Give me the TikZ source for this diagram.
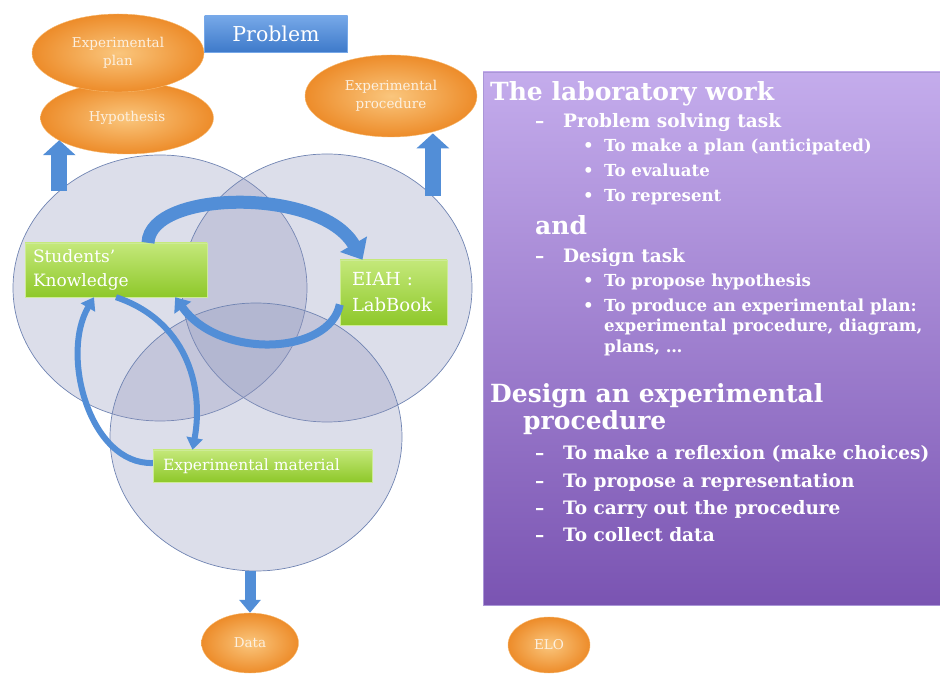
\documentclass[tikz,border=0pt]{standalone}
\usepackage{fontspec}
\setmainfont{DejaVu Serif}
\usetikzlibrary{arrows.meta,shapes.geometric}

\definecolor{orangedark}{RGB}{237,140,42}
\definecolor{orangelight}{RGB}{250,198,125}
\definecolor{orangeedge}{RGB}{247,185,110}
\definecolor{greentop}{RGB}{196,232,122}
\definecolor{greenbot}{RGB}{142,200,42}
\definecolor{greenedge}{RGB}{205,235,150}
\definecolor{arrowblue}{RGB}{82,142,215}
\definecolor{circfill}{RGB}{140,145,185}
\definecolor{circline}{RGB}{112,132,178}
\definecolor{purpletop}{RGB}{196,172,236}
\definecolor{purplebot}{RGB}{122,84,178}
\definecolor{purpleedge}{RGB}{170,150,215}
\definecolor{probtop}{RGB}{118,168,232}
\definecolor{probbot}{RGB}{62,122,202}
\definecolor{paletext}{RGB}{252,240,224}

\tikzset{
  field/.style={ellipse, draw=circline, line width=0.7pt, fill=circfill,
    fill opacity=0.3, inner sep=0pt},
  goal/.style={ellipse, inner sep=0pt, inner color=orangelight,
    outer color=orangedark, draw=orangeedge, text=paletext, align=center,
    font=\fontsize{13.5}{18}\selectfont},
  tool/.style={rectangle, inner ysep=0pt, top color=greentop,
    bottom color=greenbot, draw=greenedge, text=white, align=left},
  blockarrow/.style={draw=arrowblue, line width=16pt,
    -{Triangle[width=32pt,length=15pt]}},
  droparrow/.style={draw=arrowblue, line width=11pt,
    -{Triangle[width=21pt,length=13pt]}},
  bendthick/.style={draw=arrowblue, line width=13pt,
    -{Triangle[width=30pt,length=18pt]}},
  bendmid/.style={draw=arrowblue, line width=8pt,
    -{Triangle[width=20pt,length=13pt]}},
  bendthin/.style={draw=arrowblue, line width=6pt,
    -{Triangle[width=16pt,length=12pt]}},
  headline/.style={anchor=base west, inner sep=0pt, text=white,
    font=\fontsize{25}{27}\selectfont\bfseries},
  taskline/.style={anchor=base west, inner sep=0pt, text=white,
    font=\fontsize{18.5}{20}\selectfont\bfseries},
  subline/.style={anchor=base west, inner sep=0pt, text=white,
    font=\fontsize{16.6}{18}\selectfont\bfseries},
}

\begin{document}
\begin{tikzpicture}[x=1pt,y=1pt]
  \useasboundingbox (0,0) rectangle (940,675);

  % three overlapping fields
  \node[field, minimum width=294pt, minimum height=266pt] (lc) at (160,387) {};
  \node[field, minimum width=290pt, minimum height=268pt] (rc) at (327,387) {};
  \node[field, minimum width=292pt, minimum height=268pt] (bc) at (256,238) {};

  % outcomes
  \node[goal, minimum width=173pt, minimum height=72pt] (hyp) at (127,557) {Hypothesis};
  \node[goal, minimum width=172pt, minimum height=78pt] (plan) at (118,622) {Experimental\\plan};
  \node[goal, minimum width=172pt, minimum height=82pt] (proc) at (391,579) {Experimental\\procedure};
  \node[goal, minimum width=97pt, minimum height=60pt] (data) at (250,32) {Data};
  \node[goal, minimum width=82pt, minimum height=56pt] (elo) at (549,30) {ELO};
  \node[rectangle, top color=probtop, bottom color=probbot, draw=probtop, text=white,
    minimum width=143pt, minimum height=36pt,
    font=\fontsize{20.5}{22}\selectfont] (prob) at (276,641) {Problem};

  \draw[blockarrow] (lc.136) -- (lc.136 |- hyp.198);
  \draw[blockarrow] (rc.41) -- (rc.41 |- proc.314);
  \draw[droparrow] (bc.south -| data.north) -- (data.north);

  % the three poles
  \node[tool, text width=166pt, inner xsep=8pt, minimum height=54pt,
    font=\fontsize{17}{24}\selectfont] (sk) at (116,405) {Students'\\Knowledge};
  \node[tool, text width=83pt, inner xsep=12pt, minimum height=65pt,
    font=\fontsize{18}{26}\selectfont] (lab) at (393.5,382.5) {EIAH :\\LabBook};
  \node[tool, text width=199pt, inner xsep=10pt, minimum height=32pt,
    font=\fontsize{15.5}{18}\selectfont] (em) at (262.5,209) {Experimental material};

  \draw[bendthick] ([xshift=32pt]sk.north) .. controls +(2,53) and +(-42,73) .. ([xshift=-31pt]lab.north);
  \draw[bendmid] ([yshift=-12pt]lab.west) .. controls +(-10,-50) and +(45,-63) .. ([xshift=-32pt]sk.south east);
  \draw[bendthin] (sk.south) .. controls +(69,-23) and +(12,65) .. ([xshift=-70pt]em.north);
  \draw[bendthin] ([yshift=3pt]em.west) .. controls +(-63,-2) and +(-34,-58) .. ([xshift=-22pt]sk.south);

  % task description
  \node[rectangle, top color=purpletop, bottom color=purplebot, draw=purpleedge,
    minimum width=457pt, minimum height=533pt, inner sep=0pt] (panel) at (711.5,336.5) {};
  \node[headline] (h1) at (490,574) {The laboratory work};
  \node[taskline] (t1) at (535,547) {\makebox[28pt][l]{–}Problem solving task};
  \node[subline] (s1) at (583,523) {\makebox[21pt][l]{•}To make a plan (anticipated)};
  \node[subline] (s2) at (583,498) {\makebox[21pt][l]{•}To evaluate};
  \node[subline] (s3) at (583,473) {\makebox[21pt][l]{•}To represent};
  \node[headline] (h2) at (535,440) {and};
  \node[taskline] (t2) at (535,412) {\makebox[28pt][l]{–}Design task};
  \node[subline] (s4) at (583,388) {\makebox[21pt][l]{•}To propose hypothesis};
  \node[subline] (s5) at (583,363) {\makebox[21pt][l]{•}To produce an experimental plan:};
  \node[subline] (s6) at (604,343) {experimental procedure, diagram,};
  \node[subline] (s7) at (604,322) {plans, …};
  \node[headline] (h3) at (490,272) {Design an experimental};
  \node[headline] (h4) at (523,245) {procedure};
  \node[taskline] (t3) at (535,215) {\makebox[28pt][l]{–}To make a reflexion (make choices)};
  \node[taskline] (t4) at (535,187) {\makebox[28pt][l]{–}To propose a representation};
  \node[taskline] (t5) at (535,160) {\makebox[28pt][l]{–}To carry out the procedure};
  \node[taskline] (t6) at (535,133) {\makebox[28pt][l]{–}To collect data};
\end{tikzpicture}
\end{document}
